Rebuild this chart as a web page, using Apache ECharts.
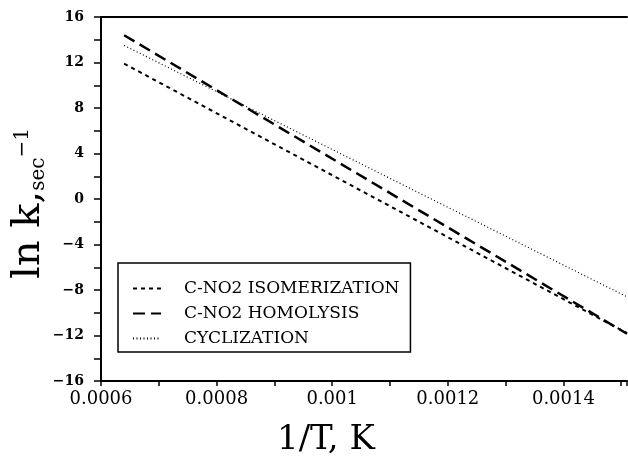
<!DOCTYPE html>
<html>
<head>
<meta charset="utf-8">
<script src="https://cdn.jsdelivr.net/npm/echarts@6/dist/echarts.min.js"></script>
<style>
  html, body { margin: 0; padding: 0; background: #fff; }
  #chart { width: 628px; height: 457px; }
</style>
</head>
<body>
<div id="chart"></div>
<script>
// 1/T end points of each line
const invT = [0.00064, 0.00151]
// ln k at those end points
const isomerization = [11.9, -11.8]
const homolysis = [14.4, -11.85]
const cyclization = [13.5, -8.6]
const seriesNames = ['C-NO2 ISOMERIZATION', 'C-NO2 HOMOLYSIS', 'CYCLIZATION']
const xTickLabels = ['0.0006', '0.0008', '0.001', '0.0012', '0.0014']

const toPoints = (ys) => invT.map((x, i) => [x, ys[i]])
const serif = 'DejaVu Serif'

const chart = echarts.init(document.getElementById('chart'))

const lineSeries = (name, ys, width, dash) => ({
  name: name,
  type: 'line',
  data: toPoints(ys),
  symbol: 'none',
  silent: true,
  itemStyle: { color: '#000' },
  lineStyle: { color: '#000', width: width, type: dash }
})

const option = {
  animation: false,
  backgroundColor: '#fff',
  grid: { left: 101, right: 1, top: 17, bottom: 76 },
  legend: {
    orient: 'vertical',
    left: 118,
    top: 263,
    padding: [17, 11, 5, 14],
    itemGap: 8,
    itemWidth: 28,
    itemHeight: 14,
    borderColor: '#000',
    borderWidth: 1.5,
    selectedMode: false,
    itemStyle: { opacity: 0 },
    textStyle: { fontFamily: serif, fontSize: 17, color: '#000', padding: [0, 0, 0, 18] },
    data: seriesNames
  },
  xAxis: [{
    type: 'value',
    min: 0.0006,
    max: 0.00151,
    interval: 0.0002,
    axisLine: { onZero: false, lineStyle: { color: '#000', width: 2 } },
    axisTick: { length: 5, lineStyle: { color: '#000', width: 1.5 } },
    minorTick: { show: true, splitNumber: 2, length: 5, lineStyle: { color: '#000', width: 1.5 } },
    splitLine: { show: false },
    axisLabel: {
      margin: 9,
      color: '#000',
      fontFamily: serif,
      fontSize: 18,
      showMaxLabel: false,
      formatter: (v) => {
        const s = xTickLabels.find(t => Math.abs(parseFloat(t) - v) < 1e-9)
        return s || ''
      }
    }
  }, {
    type: 'value',
    position: 'top',
    min: 0.0006,
    max: 0.00151,
    axisLine: { onZero: false, lineStyle: { color: '#000', width: 2 } },
    axisTick: { show: false },
    axisLabel: { show: false },
    splitLine: { show: false }
  }],
  yAxis: {
    type: 'value',
    min: -16,
    max: 16,
    interval: 4,
    axisLine: { onZero: false, lineStyle: { color: '#000', width: 2 } },
    axisTick: { length: 7, lineStyle: { color: '#000', width: 1.5 } },
    minorTick: { show: true, splitNumber: 2, length: 7, lineStyle: { color: '#000', width: 1.5 } },
    splitLine: { show: false },
    axisLabel: {
      margin: 17,
      color: '#000',
      fontFamily: serif,
      fontSize: 14,
      fontWeight: 'bold',
      formatter: (v) => (v < 0 ? '\u2212' + Math.abs(v) : String(v))
    }
  },
  graphic: [{
    type: 'text',
    left: 277,
    top: 423,
    style: { text: '1/T, K', font: '34px "DejaVu Serif"', fill: '#000' }
  }, {
    type: 'text',
    x: 3,
    y: 279,
    rotation: Math.PI / 2,
    style: {
      text: '{a|ln k,}{b|sec}{c|\u22121}',
      fill: '#000',
      rich: {
        a: { fontFamily: serif, fontSize: 40, lineHeight: 46, verticalAlign: 'bottom' },
        b: { fontFamily: serif, fontSize: 20, lineHeight: 35, verticalAlign: 'bottom' },
        c: { fontFamily: serif, fontSize: 20, lineHeight: 20, padding: [10, 0, 0, 0], verticalAlign: 'top' }
      }
    }
  }],
  series: [
    lineSeries(seriesNames[0], isomerization, 2, [4, 4]),
    lineSeries(seriesNames[1], homolysis, 2.5, [12, 6]),
    lineSeries(seriesNames[2], cyclization, 1.2, [1, 2.5])
  ]
}

chart.setOption(option)
</script>
</body>
</html>
